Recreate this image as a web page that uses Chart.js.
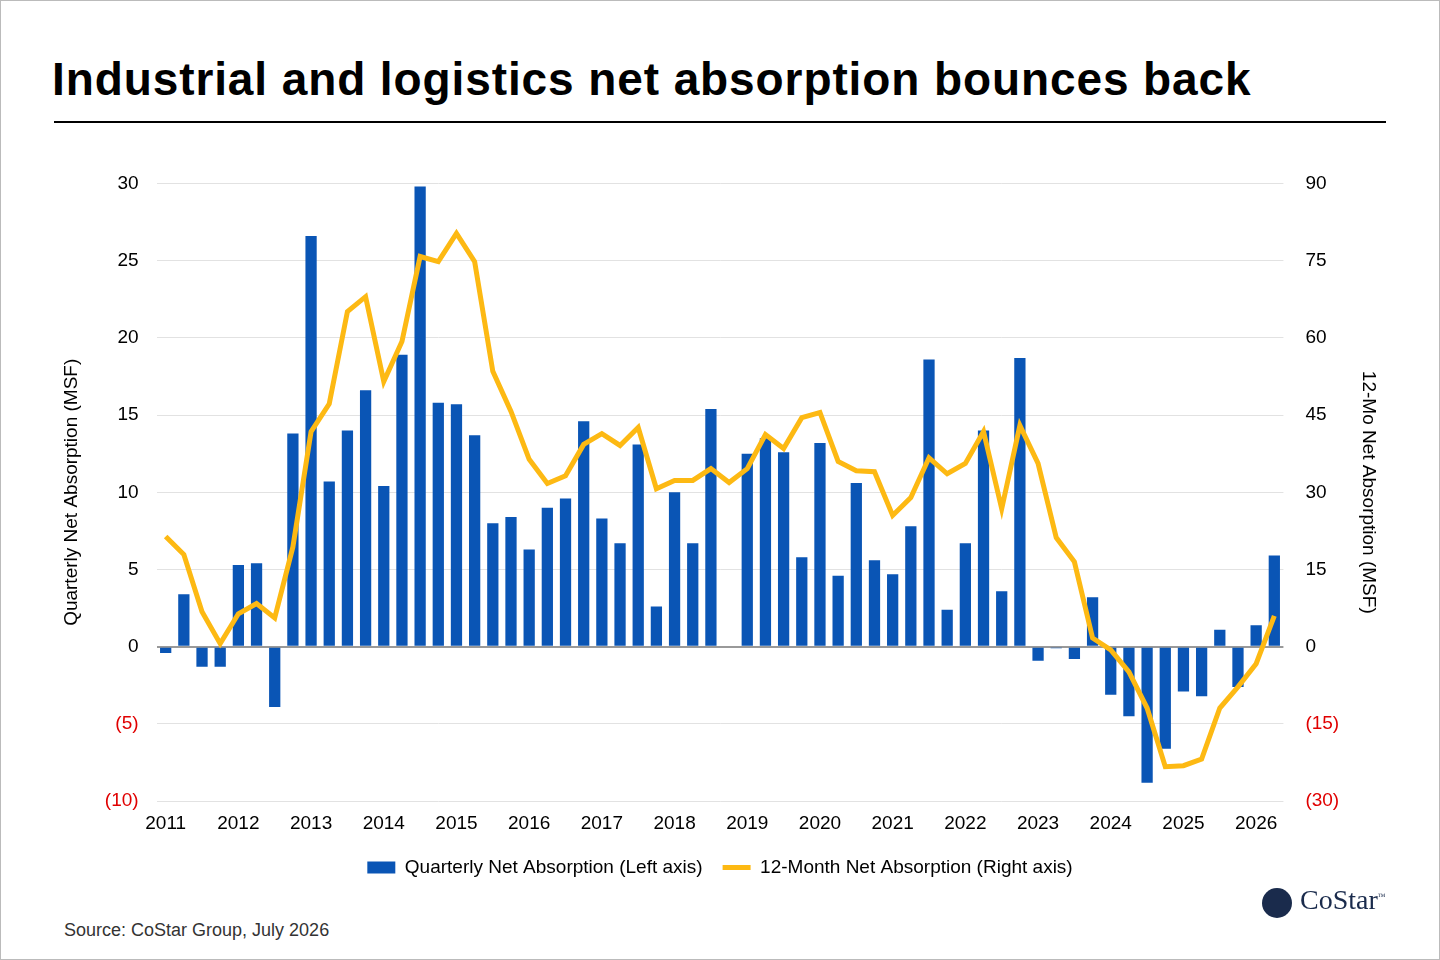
<!DOCTYPE html>
<html><head><meta charset="utf-8">
<script src="https://cdn.jsdelivr.net/npm/chart.js@4"></script>
<style>
body{margin:0;background:#fff;font-family:"Liberation Sans",Arial,sans-serif;}
#frame{position:absolute;left:0;top:0;width:1438px;height:958px;border:1px solid #bbb;}
#title{position:absolute;left:52px;top:52px;font-size:46px;font-weight:bold;color:#000;letter-spacing:0.9px;}
#rule{position:absolute;left:54px;top:121px;width:1332px;height:2px;background:#000;}
#wrap{position:absolute;left:0;top:154px;width:1440px;height:733px;}
#src{position:absolute;left:64px;top:920px;font-size:18px;color:#333;}
#logo{position:absolute;left:1262px;top:884px;font-size:28px;font-family:"Liberation Serif",serif;color:#1a2b4c;}
#logo span{display:inline-block;width:30px;height:30px;border-radius:50%;background:#1a2b4c;vertical-align:middle;margin-right:8px;}
</style></head><body>
<div id="frame"></div>
<div id="title">Industrial and logistics net absorption bounces back</div>
<div id="rule"></div>
<div id="wrap"><canvas id="c"></canvas></div>
<div id="src">Source: CoStar Group, July 2026</div>
<div id="logo"><span></span>CoStar<sup style="font-size:8px">™</sup></div>
<script>
const years = [2011,2012,2013,2014,2015,2016,2017,2018,2019,2020,2021,2022,2023,2024,2025,2026];
const quarterly = [-0.4,3.4,-1.3,-1.3, 5.3,5.4,-3.9,13.8, 26.6,10.7,14.0,16.6, 10.4,18.9,29.8,15.8,
  15.7,13.7,8.0,8.4, 6.3,9.0,9.6,14.6, 8.3,6.7,13.1,2.6, 10.0,6.7,15.4,0,
  12.5,13.5,12.6,5.8, 13.2,4.6,10.6,5.6, 4.7,7.8,18.6,2.4, 6.7,14.0,3.6,18.7,
  -0.9,-0.1,-0.8,3.2, -3.1,-4.5,-8.8,-6.6, -2.9,-3.2,1.1,-2.6, 1.4,5.9];
const twelveMonth = [21.4,17.9,6.8,0.6, 6.4,8.4,5.6,19.4, 41.8,47.2,65.1,68, 51.5,59.3,75.8,74.8,
  80.3,74.8,53.5,45.7, 36.4,31.7,33.2,39.3, 41.4,39.1,42.6,30.7, 32.3,32.3,34.6,31.9,
  34.6,41.2,38.5,44.5, 45.5,36,34.2,34, 25.5,29,36.7,33.6, 35.6,41.8,26.8,43,
  35.6,21.2,16.5,1.7, -0.6,-4.9,-11.9,-23.3, -23.1,-21.8,-11.9,-7.8, -3.3,6];
const labels = [];
years.forEach(y => { for (let q = 1; q <= 4; q++) labels.push(y + ' Q' + q); });
labels.length = quarterly.length;

const fmt = v => v < 0 ? '(' + Math.abs(v) + ')' : String(v);
const tickColor = c => c.tick.value < 0 ? '#e00000' : '#000';
const font19 = { size: 19, family: 'Liberation Sans' };

new Chart(document.getElementById('c'), {
  data: {
    labels: labels,
    datasets: [
      { type: 'line', label: '12-Month Net Absorption (Right axis)', data: twelveMonth, yAxisID: 'y1',
        borderColor: '#fdb913', backgroundColor: '#fdb913', borderWidth: 5, pointRadius: 0, tension: 0, pointStyle: 'line' },
      { type: 'bar', label: 'Quarterly Net Absorption (Left axis)', data: quarterly, yAxisID: 'y',
        backgroundColor: '#0a55b5', barPercentage: 0.62, categoryPercentage: 1, pointStyle: 'rect' }
    ]
  },
  options: {
    responsive: true, maintainAspectRatio: false, animation: false,
    layout: { padding: { left: 56, right: 56, top: 10 } },
    plugins: {
      legend: { position: 'bottom', reverse: true,
        labels: { font: font19, color: '#000', usePointStyle: true, pointStyleWidth: 28, boxHeight: 12, padding: 20 } },
      tooltip: { enabled: false }
    },
    scales: {
      x: { grid: { display: false }, border: { display: false },
        ticks: { autoSkip: false, maxRotation: 0, color: '#000', font: font19,
          callback: function(v, i) { const l = labels[i]; return l.endsWith('Q1') ? l.slice(0, 4) : ''; } } },
      y: { min: -10, max: 30, position: 'left',
        title: { display: true, text: 'Quarterly Net Absorption (MSF)', font: font19, color: '#000' },
        ticks: { stepSize: 5, callback: fmt, color: tickColor, font: font19, padding: 18 },
        grid: { color: c => c.tick.value === 0 ? '#999' : '#e2e2e2', lineWidth: c => c.tick.value === 0 ? 2 : 1, drawTicks: false },
        border: { display: false } },
      y1: { min: -30, max: 90, position: 'right',
        title: { display: true, text: '12-Mo Net Absorption (MSF)', font: font19, color: '#000' },
        ticks: { stepSize: 15, callback: fmt, color: tickColor, font: font19, padding: 14 },
        grid: { display: false }, border: { display: false } }
    }
  }
});
</script>
</body></html>
